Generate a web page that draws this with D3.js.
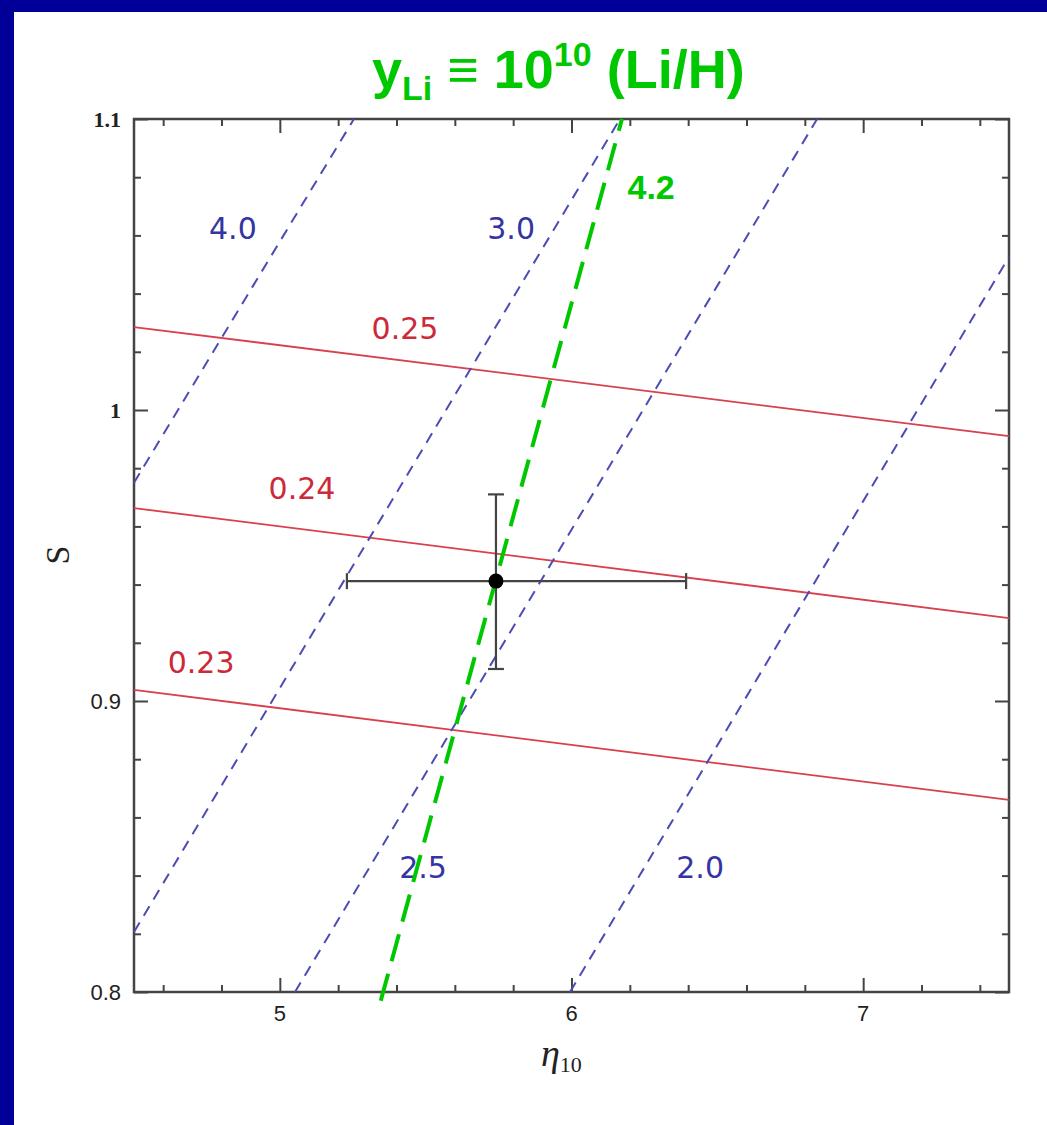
<!DOCTYPE html>
<html>
<head>
<meta charset="utf-8">
<script src="https://cdn.jsdelivr.net/npm/d3@7"></script>
<style>
  html, body { margin: 0; padding: 0; background: #fff; overflow: hidden; }
  svg { display: block; }
</style>
</head>
<body>
<div id="chart"></div>
<script>
// axis ranges and ticks
var etaDomain = [4.5, 7.5];
var sDomain = [0.8, 1.1];
var xMajor = [5, 6, 7];
var yMajor = [0.8, 0.9, 1.0, 1.1];

// Y_p contours (solid red): S at left edge (eta=4.5) and right edge (eta=7.5)
var ypNames = ["0.25", "0.24", "0.23"];
var ypLeft = [1.0285, 0.9663, 0.9038];
var ypRight = [0.991, 0.9285, 0.866];
var ypLabelAt = [[5.429, 1.0282], [5.076, 0.9732], [4.730, 0.9134]];

// y_Li contours (dashed blue): [eta, S] end points where they meet the frame
var liNames = ["4.0", "3.0", "2.5", "2.0"];
var liStart = [[4.5, 0.975], [4.5, 0.8206], [5.052, 0.8], [5.995, 0.8]];
var liEnd = [[5.254, 1.1], [6.166, 1.1], [6.842, 1.1], [7.5, 1.0526]];
var liLabelAt = [[4.839, 1.0625], [5.793, 1.0625], [5.491, 0.843], [6.441, 0.843]];

// observed y_Li = 4.2 (green)
var obsLine = [[5.346, 0.797], [6.173, 1.1]];
var obsLabelAt = [6.273, 1.0766];

// data point with error bars
var point = { eta: 5.741, s: 0.9412, etaLo: 5.23, etaHi: 6.393, sLo: 0.911, sHi: 0.971 };

var C = {
    W: 1047, H: 1125,
    LEFT: 134, RIGHT: 1009, TOP: 119, BOTTOM: 992,
    NAVY: "#000099",
    FRAME: "#444",
    RED: "#d8404e",
    BLUE: "#4c4cb4",
    GREEN: "#00c800"
};

var svg = d3.select("#chart").append("svg")
    .attr("width", C.W)
    .attr("height", C.H);

svg.append("rect").attr("width", C.W).attr("height", C.H).attr("fill", "#fff");
// navy slide border (left + top)
svg.append("rect").attr("x", 0).attr("y", 0).attr("width", 14).attr("height", C.H).attr("fill", C.NAVY);
svg.append("rect").attr("x", 0).attr("y", 0).attr("width", C.W).attr("height", 12).attr("fill", C.NAVY);

var x = d3.scaleLinear().domain(etaDomain).range([C.LEFT, C.RIGHT]);
var y = d3.scaleLinear().domain(sDomain).range([C.BOTTOM, C.TOP]);

var xMinor = d3.range(4.6, 7.5, 0.2).filter(function (v) {
    return Math.abs(v - Math.round(v)) > 1e-6;
});
var yMinor = d3.range(0.82, 1.1, 0.02).filter(function (v) {
    return Math.abs(v * 10 - Math.round(v * 10)) > 1e-6;
});

// ticks on all four sides, pointing in
function ticks(axisFn, scale, vals, size, tr) {
    var g = svg.append("g")
        .attr("transform", tr)
        .call(axisFn(scale).tickValues(vals).tickSize(size).tickFormat(""));
    g.select(".domain").remove();
    g.selectAll("line").attr("stroke", C.FRAME).attr("stroke-width", 2);
}
ticks(d3.axisBottom, x, xMajor, -14, "translate(0," + C.BOTTOM + ")");
ticks(d3.axisBottom, x, xMinor, -7, "translate(0," + C.BOTTOM + ")");
ticks(d3.axisTop, x, xMajor, -14, "translate(0," + C.TOP + ")");
ticks(d3.axisTop, x, xMinor, -7, "translate(0," + C.TOP + ")");
ticks(d3.axisLeft, y, yMajor, -14, "translate(" + C.LEFT + ",0)");
ticks(d3.axisLeft, y, yMinor, -7, "translate(" + C.LEFT + ",0)");
ticks(d3.axisRight, y, yMajor, -14, "translate(" + C.RIGHT + ",0)");
ticks(d3.axisRight, y, yMinor, -7, "translate(" + C.RIGHT + ",0)");

svg.append("rect")
    .attr("x", C.LEFT).attr("y", C.TOP)
    .attr("width", C.RIGHT - C.LEFT).attr("height", C.BOTTOM - C.TOP)
    .attr("fill", "none").attr("stroke", C.FRAME).attr("stroke-width", 2.5);

// tick labels
svg.selectAll(".xl").data(xMajor).enter().append("text")
    .attr("x", function (d) { return x(d); })
    .attr("y", 1021)
    .attr("text-anchor", "middle")
    .attr("font-family", "Liberation Sans, Arial, sans-serif")
    .attr("font-size", "22px")
    .attr("fill", "#222")
    .text(function (d) { return d; });

svg.selectAll(".yl").data(yMajor).enter().append("text")
    .attr("x", 121)
    .attr("y", function (d) { return y(d); })
    .attr("dy", "0.36em")
    .attr("text-anchor", "end")
    .attr("font-family", function (d) { return d >= 1 ? "Liberation Serif, Times New Roman, serif" : "Liberation Sans, Arial, sans-serif"; })
    .attr("font-weight", function (d) { return d >= 1 ? "bold" : "normal"; })
    .attr("font-size", "22px")
    .attr("fill", "#222")
    .text(function (d) { return d3.format("~g")(d); });

var line = d3.line().x(function (d) { return x(d[0]); }).y(function (d) { return y(d[1]); });

// red solid contours
ypNames.forEach(function (name, i) {
    svg.append("path")
        .attr("d", line([[etaDomain[0], ypLeft[i]], [etaDomain[1], ypRight[i]]]))
        .attr("fill", "none")
        .attr("stroke", C.RED)
        .attr("stroke-width", 1.8);
    svg.append("text")
        .attr("x", x(ypLabelAt[i][0]))
        .attr("y", y(ypLabelAt[i][1]))
        .attr("dy", "0.36em")
        .attr("text-anchor", "middle")
        .attr("font-family", "DejaVu Sans, sans-serif")
        .attr("font-size", "30px")
        .attr("fill", "#cc2a3a")
        .text(name);
});

// blue dashed contours
liNames.forEach(function (name, i) {
    svg.append("path")
        .attr("d", line([liStart[i], liEnd[i]]))
        .attr("fill", "none")
        .attr("stroke", C.BLUE)
        .attr("stroke-width", 2)
        .attr("stroke-dasharray", "11,8");
    svg.append("text")
        .attr("x", x(liLabelAt[i][0]))
        .attr("y", y(liLabelAt[i][1]))
        .attr("dy", "0.36em")
        .attr("text-anchor", "middle")
        .attr("font-family", "DejaVu Sans, sans-serif")
        .attr("font-size", "30px")
        .attr("fill", "#3434a4")
        .text(name);
});

// error bars
var eb = svg.append("g").attr("stroke", "#444").attr("stroke-width", 2.2);
eb.append("line").attr("x1", x(point.etaLo)).attr("x2", x(point.etaHi)).attr("y1", y(point.s)).attr("y2", y(point.s));
eb.append("line").attr("x1", x(point.eta)).attr("x2", x(point.eta)).attr("y1", y(point.sLo)).attr("y2", y(point.sHi));
[point.etaLo, point.etaHi].forEach(function (v) {
    eb.append("line").attr("x1", x(v)).attr("x2", x(v)).attr("y1", y(point.s) - 8).attr("y2", y(point.s) + 8);
});
[point.sLo, point.sHi].forEach(function (v) {
    eb.append("line").attr("x1", x(point.eta) - 8).attr("x2", x(point.eta) + 8).attr("y1", y(v)).attr("y2", y(v));
});

// green observed line
svg.append("path")
    .attr("d", line(obsLine))
    .attr("fill", "none")
    .attr("stroke", C.GREEN)
    .attr("stroke-width", 4)
    .attr("stroke-dasharray", "28,13");

svg.append("circle")
    .attr("cx", x(point.eta)).attr("cy", y(point.s)).attr("r", 7.5)
    .attr("fill", "#000");

svg.append("text")
    .attr("x", x(obsLabelAt[0]))
    .attr("y", y(obsLabelAt[1]))
    .attr("dy", "0.36em")
    .attr("text-anchor", "middle")
    .attr("font-family", "Liberation Sans, Arial, sans-serif")
    .attr("font-weight", "bold")
    .attr("font-size", "34px")
    .attr("fill", C.GREEN)
    .text("4.2");

// title
var title = svg.append("text")
    .attr("x", 372).attr("y", 88)
    .attr("font-family", "Liberation Sans, Arial, sans-serif")
    .attr("font-weight", "bold")
    .attr("font-size", "54px")
    .attr("fill", C.GREEN);
title.append("tspan").text("y");
title.append("tspan").attr("font-size", "34px").attr("dy", 12).text("Li");
title.append("tspan").attr("dy", -12).text(" \u2261 10");
title.append("tspan").attr("font-size", "34px").attr("dy", -22).text("10");
title.append("tspan").attr("dy", 22).text(" (Li/H)");

// axis titles
var xt = svg.append("text")
    .attr("x", 541).attr("y", 1066)
    .attr("font-family", "Liberation Serif, Times New Roman, serif")
    .attr("fill", "#222");
xt.append("tspan").attr("font-style", "italic").attr("font-size", "38px").text("\u03b7");
xt.append("tspan").attr("font-size", "22px").attr("dy", 6).text("10");

svg.append("text")
    .attr("transform", "translate(57,555) rotate(-90)")
    .attr("dy", "0.36em")
    .attr("text-anchor", "middle")
    .attr("font-family", "Liberation Serif, Times New Roman, serif")
    .attr("font-size", "34px")
    .attr("fill", "#222")
    .text("S");
</script>
</body>
</html>
